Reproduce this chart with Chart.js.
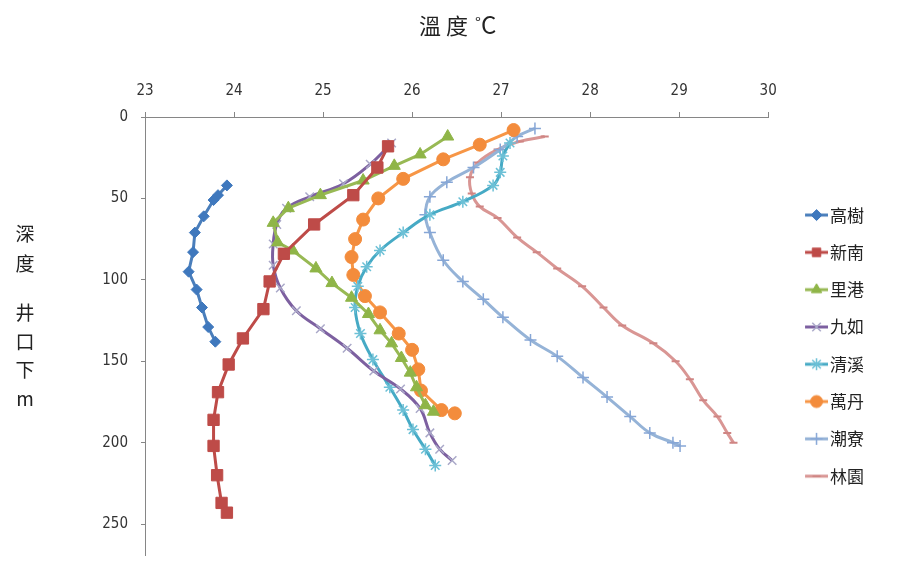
<!DOCTYPE html>
<html>
<head>
<meta charset="utf-8">
<script src="https://cdn.jsdelivr.net/npm/chart.js@4.4.1/dist/chart.umd.min.js"></script>
<style>
  body { margin: 0; background: #fff; overflow: hidden; }
  #wrap { position: relative; width: 897px; height: 564px; font-family: 'Noto Sans CJK TC', sans-serif; color: #222; }
  .lbl { position: absolute; font-size: 19px; text-align: center; width: 24px; }
  canvas { position: absolute; left: 0; top: 0; }
</style>
</head>
<body>
<div id="wrap">
  <canvas id="tempChart" width="897" height="564"></canvas>
  <div class="lbl" style="left:419px;top:6px;width:auto;font-size:22px;letter-spacing:5px;">溫度<span style="font-size:16px;vertical-align:5px;margin-left:2px;letter-spacing:0;">°</span><span style="font-size:24px;">C</span></div>
  <div class="lbl" style="left:13px;top:218px;line-height:30px;">深<br>度</div>
  <div class="lbl" style="left:13px;top:298px;line-height:28.5px;">井<br>口<br>下<br>m</div>
</div>
<script>
// temperature (°C) and depth (m) per well
const gaoshuTemp = [23.92, 23.82, 23.77, 23.66, 23.56, 23.54, 23.49, 23.58, 23.64, 23.71, 23.79];
const gaoshuDepth = [42, 48, 51, 61, 71, 83, 95, 106, 117, 129, 138];

const xinnanTemp = [25.73, 25.61, 25.34, 24.90, 24.56, 24.40, 24.33, 24.10, 23.94, 23.82, 23.77, 23.77, 23.81, 23.86, 23.92];
const xinnanDepth = [18, 31, 48, 66, 84, 101, 118, 136, 152, 169, 186, 202, 220, 237, 243];

const ligangTemp = [26.40, 26.09, 25.80, 25.45, 24.97, 24.61, 24.44, 24.49, 24.66, 24.92, 25.10, 25.32, 25.51, 25.64, 25.77, 25.88, 25.98, 26.05, 26.15, 26.24];
const ligangDepth = [12, 23, 30, 39, 48, 56, 65, 77, 82, 93, 102, 111, 121, 131, 139, 148, 157, 166, 177, 181];

const jiuruTemp = [25.77, 25.53, 25.23, 24.85, 24.59, 24.48, 24.44, 24.44, 24.52, 24.70, 24.97, 25.27, 25.57, 25.87, 26.09, 26.20, 26.31, 26.45];
const jiuruDepth = [16, 29, 41, 49, 56, 66, 78, 91, 105, 119, 130, 142, 156, 167, 179, 194, 204, 211];

const qingxiTemp = [27.10, 27.02, 26.99, 26.91, 26.57, 26.20, 25.90, 25.64, 25.49, 25.39, 25.36, 25.42, 25.56, 25.75, 25.90, 26.01, 26.15, 26.26];
const qingxiDepth = [16, 24, 34, 42, 52, 60, 71, 82, 92, 104, 117, 133, 149, 166, 180, 192, 204, 214];

const wandanTemp = [27.14, 26.76, 26.35, 25.90, 25.62, 25.45, 25.36, 25.32, 25.34, 25.47, 25.64, 25.85, 26.00, 26.07, 26.10, 26.33, 26.48];
const wandanDepth = [8, 17, 26, 38, 50, 63, 75, 86, 97, 110, 120, 133, 143, 155, 168, 180, 182];

const chaoliaoTemp = [27.38, 27.18, 26.99, 26.69, 26.39, 26.20, 26.15, 26.20, 26.35, 26.57, 26.80, 27.02, 27.33, 27.63, 27.92, 28.19, 28.45, 28.67, 28.93, 29.01];
const chaoliaoDepth = [7, 12, 20, 31, 40, 49, 60, 71, 88, 101, 112, 123, 137, 147, 160, 172, 184, 194, 200, 202];

const linyuanTemp = [27.49, 27.21, 26.96, 26.74, 26.65, 26.67, 26.76, 26.96, 27.18, 27.40, 27.63, 27.91, 28.15, 28.36, 28.71, 28.96, 29.12, 29.27, 29.43, 29.54, 29.61];
const linyuanDepth = [12, 15, 20, 28, 37, 47, 55, 62, 74, 83, 93, 104, 117, 128, 139, 150, 161, 174, 184, 194, 200];

const tempTicks = [23, 24, 25, 26, 27, 28, 29, 30];
const depthTicks = [0, 50, 100, 150, 200, 250];

function pairs(temps, depths) {
    return temps.map((t, i) => ({ x: t, y: depths[i] }));
}

function series(label, temps, depths, color, markColor, style, radius, tension, bw) {
    return {
        label: label,
        data: pairs(temps, depths),
        showLine: true,
        borderColor: color,
        backgroundColor: markColor,
        borderWidth: 3,
        tension: tension,
        pointStyle: style,
        pointRadius: radius,
        pointBorderColor: markColor,
        pointBackgroundColor: markColor,
        pointBorderWidth: bw
    };
}

const datasets = [
    series('高樹', gaoshuTemp, gaoshuDepth, '#4a7ebb', '#3f78bd', 'rectRot', 5.5, 0, 1),
    series('新南', xinnanTemp, xinnanDepth, '#be4b48', '#be4b48', 'rect', 8, 0, 1),
    series('里港', ligangTemp, ligangDepth, '#98b954', '#8fb548', 'triangle', 7, 0, 1),
    series('九如', jiuruTemp, jiuruDepth, '#7d60a0', '#a9a8c8', 'crossRot', 6, 0.4, 1.5),
    series('清溪', qingxiTemp, qingxiDepth, '#46aac5', '#6cc0d6', 'star', 6, 0.4, 1.5),
    series('萬丹', wandanTemp, wandanDepth, '#f79646', '#f38c3c', 'circle', 6.5, 0, 1),
    series('潮寮', chaoliaoTemp, chaoliaoDepth, '#95b3d7', '#86a6d6', 'cross', 6, 0.4, 1.5),
    series('林園', linyuanTemp, linyuanDepth, '#d99694', '#cf8583', 'line', 4, 0.4, 2)
];

// legend icon: short line with the marker in the middle
function legendIcon(ds) {
    const c = document.createElement('canvas');
    c.width = 46;
    c.height = 20;
    const ctx = c.getContext('2d');
    ctx.strokeStyle = ds.borderColor;
    ctx.lineWidth = 3;
    ctx.beginPath();
    ctx.moveTo(23, 10);
    ctx.lineTo(46, 10);
    ctx.stroke();
    ctx.fillStyle = ds.pointBackgroundColor;
    ctx.strokeStyle = ds.pointBorderColor;
    ctx.lineWidth = ds.pointBorderWidth;
    Chart.helpers.drawPoint(ctx, { pointStyle: ds.pointStyle, radius: Math.min(ds.pointRadius, 6), rotation: 0, borderWidth: ds.pointBorderWidth }, 34.5, 10);
    return c;
}

const tickFont = { family: "'Liberation Sans Narrow', 'DejaVu Sans Condensed', sans-serif", size: 15 };

new Chart(document.getElementById('tempChart'), {
    type: 'scatter',
    data: { datasets: datasets },
    options: {
        responsive: false,
        animation: false,
        layout: { padding: { left: 0, right: 23, top: 0, bottom: 2 } },
        scales: {
            x: {
                type: 'linear',
                position: 'top',
                min: tempTicks[0],
                max: tempTicks[tempTicks.length - 1],
                afterBuildTicks: (scale) => { scale.ticks = tempTicks.map(v => ({ value: v })); },
                afterFit: (scale) => { scale.height = 117; },
                ticks: { color: '#333', font: tickFont, padding: 12 },
                grid: { drawOnChartArea: false, drawTicks: true, tickLength: 5, color: '#868686' },
                border: { color: '#868686', width: 1 }
            },
            y: {
                type: 'linear',
                reverse: true,
                min: 0,
                max: 269,
                afterBuildTicks: (scale) => { scale.ticks = depthTicks.map(v => ({ value: v })); },
                afterFit: (scale) => {
                    scale.width = 145;
                    scale.paddingTop = 0;
                    scale.paddingBottom = 0;
                },
                ticks: { color: '#333', font: tickFont, padding: 13 },
                grid: { drawOnChartArea: false, drawTicks: true, tickLength: 4, color: '#868686' },
                border: { color: '#868686', width: 1 }
            }
        },
        plugins: {
            tooltip: { enabled: false },
            legend: {
                position: 'right',
                fullSize: false,
                title: { display: true, text: '', font: { size: 11 }, padding: 3 },
                labels: {
                    usePointStyle: true,
                    pointStyleWidth: 33,
                    padding: 20.3,
                    color: '#222',
                    font: { family: "'Noto Sans CJK TC', sans-serif", size: 17 },
                    generateLabels: (chart) => {
                        const items = Chart.defaults.plugins.legend.labels.generateLabels(chart);
                        items.forEach((it, i) => { it.pointStyle = legendIcon(chart.data.datasets[i]); });
                        return items;
                    }
                }
            }
        }
    }
});
</script>
</body>
</html>
